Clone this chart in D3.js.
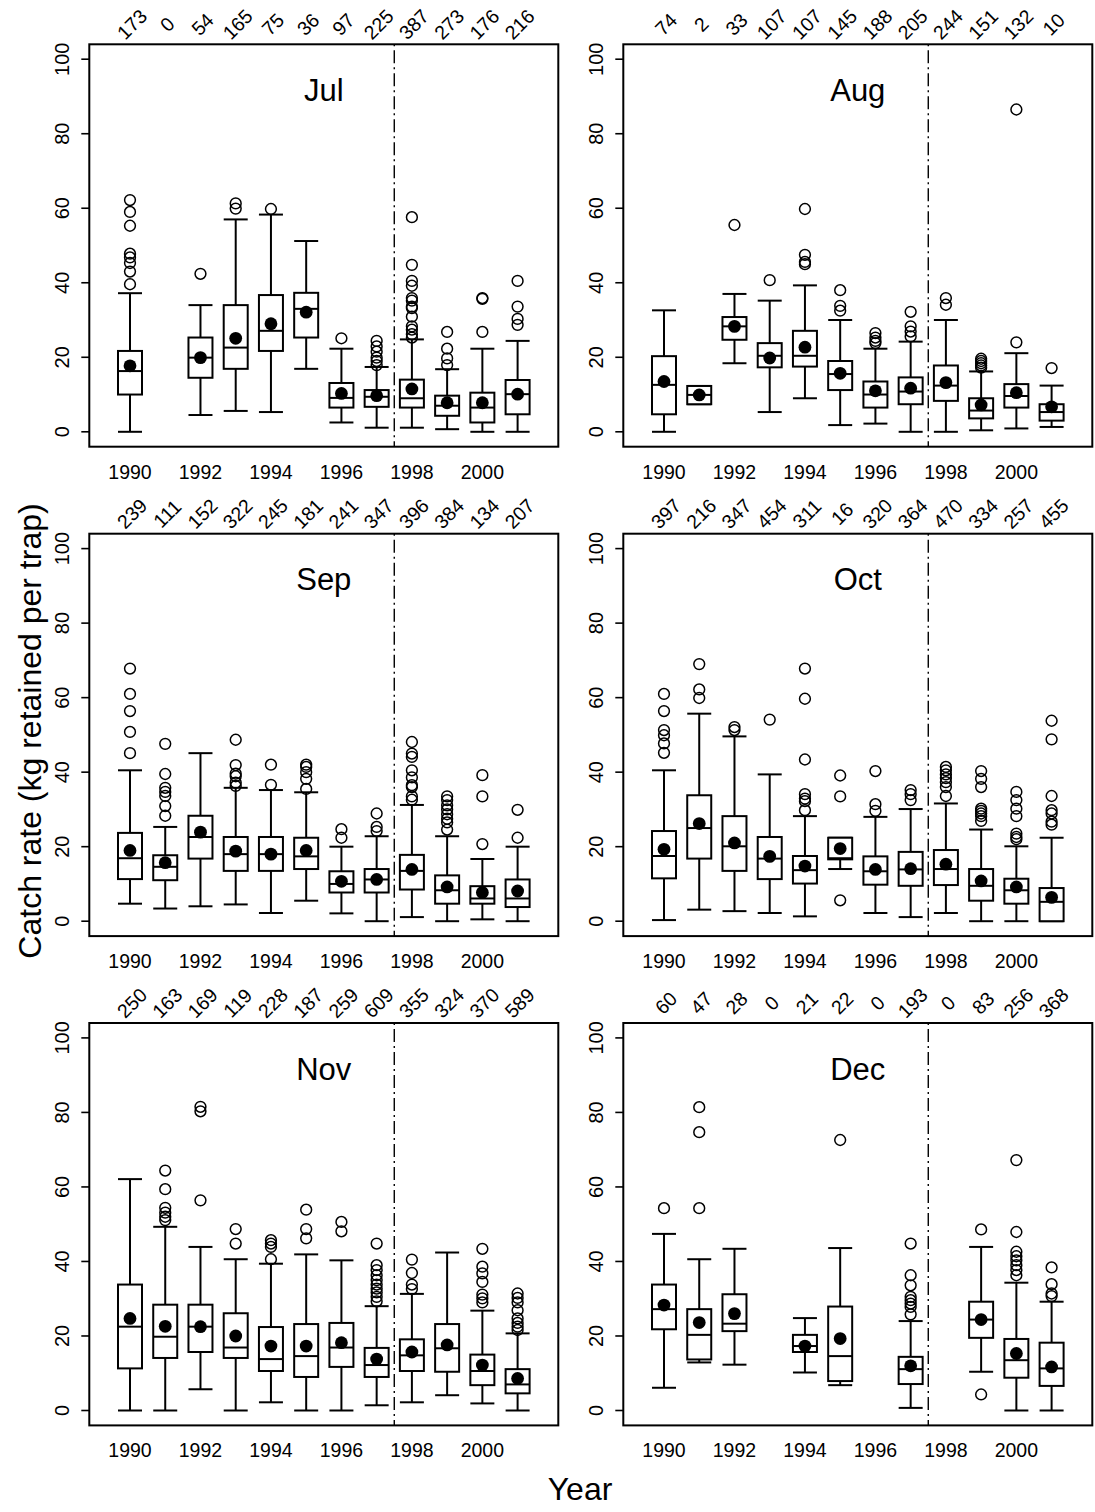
<!DOCTYPE html>
<html>
<head>
<meta charset="utf-8">
<script src="https://cdn.jsdelivr.net/npm/d3@7"></script>
<style>
  body { margin: 0; background: #fff; }
  svg text { font-family: "Liberation Sans", Arial, Helvetica, sans-serif; fill: #000; }
</style>
</head>
<body>
<svg id="chart" width="1095" height="1512"></svg>
<script>
// Survey years (one box per year) and the labelled subset on the x axis
const years = [1990, 1991, 1992, 1993, 1994, 1995, 1996, 1997, 1998, 1999, 2000, 2001];
const yearLabels = [1990, 1992, 1994, 1996, 1998, 2000];
const yTicks = [0, 20, 40, 60, 80, 100];
const breakYear = 1997.5;

// Per month: number of trap lifts, box stats [low whisker, Q1, median, Q3, high whisker],
// mean catch rate and outlying trap lifts (kg retained per trap)
const julN = [173, 0, 54, 165, 75, 36, 97, 225, 387, 273, 176, 216];
const julBox = [
  [0, 10.0, 16.3, 21.7, 37.2], null, [4.5, 14.5, 19.9, 25.3, 34.0], [5.6, 16.9, 22.6, 34.0, 57.0],
  [5.3, 21.7, 27.1, 36.7, 58.3], [16.9, 25.3, 33.0, 37.3, 51.2], [2.5, 6.5, 9.1, 13.1, 22.3], [1.1, 6.7, 9.4, 11.2, 17.4],
  [1.1, 6.5, 9.0, 14.0, 24.8], [0.7, 4.3, 7.0, 9.7, 16.8], [0, 2.5, 6.5, 10.5, 22.3], [0, 4.7, 10.1, 13.9, 24.4]];
const julMean = [17.7, null, 19.9, 25.1, 29.0, 32.1, 10.3, 9.7, 11.5, 7.8, 7.8, 10.1];
const julOut = [
  [62.2, 59.0, 55.3, 47.8, 46.8, 45.3, 43.0, 39.6], [], [42.4], [61.3, 59.9], [59.8], [], [25.1],
  [24.4, 22.9, 21.5, 19.9, 19.0, 17.9],
  [57.6, 44.8, 40.5, 39.2, 35.9, 35.2, 33.6, 33.2, 30.9, 28.3, 27.4, 26.2, 25.3],
  [26.8, 22.3, 19.7, 17.9], [35.9, 35.7, 26.8], [40.5, 33.6, 30.3, 28.7]];

const augN = [74, 2, 33, 107, 107, 145, 188, 205, 244, 151, 132, 10];
const augBox = [
  [0, 4.7, 12.6, 20.3, 32.6], [7.4, 7.4, 9.9, 12.3, 12.3], [18.4, 24.7, 28.3, 30.8, 37.0], [5.3, 17.3, 20.4, 23.8, 35.2],
  [9.0, 17.5, 20.4, 27.1, 39.3], [1.8, 11.2, 15.5, 19.0, 30.0], [2.2, 6.5, 10.0, 13.5, 22.3], [0, 7.4, 10.8, 14.6, 24.2],
  [0, 8.3, 12.4, 17.8, 30.0], [0.4, 3.6, 5.7, 9.0, 16.2], [0.9, 6.5, 9.6, 12.8, 21.1], [1.3, 3.0, 5.3, 7.4, 12.4]];
const augMean = [13.5, 9.9, 28.3, 19.8, 22.7, 15.7, 11.0, 11.7, 13.2, 7.2, 10.5, 6.7];
const augOut = [
  [], [], [55.5], [40.7], [59.8, 47.5, 45.6, 45.0], [38.0, 33.8, 32.5], [26.5, 25.3, 24.4, 23.8],
  [32.2, 28.3, 26.9, 25.6], [35.9, 34.1], [19.6, 19.0, 18.4, 17.8, 17.2], [86.5, 24.0], [17.1]];

const sepN = [239, 111, 152, 322, 245, 181, 241, 347, 396, 384, 134, 207];
const sepBox = [
  [4.7, 11.3, 16.9, 23.7, 40.5], [3.4, 11.0, 14.6, 17.7, 25.3], [4.0, 16.8, 22.6, 28.3, 45.1], [4.5, 13.5, 18.0, 22.6, 35.8],
  [2.2, 13.5, 18.0, 22.6, 35.2], [5.5, 14.0, 17.4, 22.4, 34.6], [2.1, 7.7, 10.0, 13.4, 20.0], [0, 7.7, 11.2, 14.0, 22.8],
  [1.1, 8.5, 13.5, 17.8, 31.2], [0, 4.7, 8.3, 12.3, 22.8], [0.5, 4.7, 6.1, 9.4, 16.7], [0, 3.8, 6.1, 11.2, 20.0]];
const sepMean = [19.0, 15.7, 23.9, 18.8, 18.0, 19.0, 10.7, 11.2, 13.9, 9.2, 7.7, 8.1];
const sepOut = [
  [67.8, 61.0, 56.4, 50.8, 45.1], [47.6, 39.5, 35.8, 34.7, 33.6, 30.9, 28.3], [], [48.7, 41.9, 39.6, 38.9, 37.2, 36.3],
  [42.0, 36.6], [42.0, 41.4, 40.0, 38.2, 35.5], [24.7, 22.4], [28.9, 25.3, 24.2],
  [48.1, 45.0, 44.1, 40.5, 38.6, 36.5, 36.0, 33.5, 32.6], [33.5, 32.5, 31.1, 30.0, 28.7, 27.5, 26.5, 24.6],
  [39.2, 33.5, 20.7], [29.9, 22.4]];

const octN = [397, 216, 347, 454, 311, 16, 320, 364, 470, 334, 257, 455];
const octBox = [
  [0.3, 11.5, 17.5, 24.2, 40.5], [3.1, 16.8, 25.0, 33.8, 55.7], [2.7, 13.5, 20.1, 28.2, 49.6], [2.2, 11.3, 16.8, 22.6, 39.4],
  [1.3, 10.1, 13.7, 17.5, 28.2], [14.0, 16.6, 16.9, 22.4, 22.4], [2.2, 9.8, 13.4, 17.4, 28.0], [1.1, 9.5, 13.9, 18.6, 30.1],
  [2.2, 9.7, 14.0, 19.1, 31.6], [0, 5.5, 9.5, 14.0, 24.6], [0, 4.7, 8.3, 11.4, 20.1], [0, 0, 5.2, 8.9, 22.4]];
const octMean = [19.3, 26.2, 21.0, 17.4, 14.8, 19.5, 13.9, 14.1, 15.3, 10.8, 9.2, 6.4];
const octOut = [
  [61.0, 56.4, 51.3, 49.9, 47.7, 45.2], [69.0, 62.2, 59.9], [52.1, 51.3], [54.1],
  [67.8, 59.7, 43.4, 34.1, 32.9, 32.2, 29.8], [39.1, 33.5, 5.6], [40.3, 31.4, 29.6], [35.2, 34.1, 32.5],
  [41.4, 40.5, 39.4, 38.4, 37.3, 36.0, 33.6], [40.3, 38.2, 36.0, 30.2, 29.6, 28.9, 28.2, 26.9],
  [34.7, 32.5, 30.2, 28.2, 23.5, 22.6, 22.0], [53.8, 48.8, 33.6, 29.8, 28.9, 26.7, 25.9]];

const novN = [250, 163, 169, 119, 228, 187, 259, 609, 355, 324, 370, 589];
const novBox = [
  [0, 11.3, 22.5, 33.8, 62.1], [0, 14.1, 19.8, 28.4, 49.3], [5.7, 15.7, 22.5, 28.4, 43.9], [0, 14.1, 16.9, 26.1, 40.6],
  [2.2, 10.6, 13.8, 22.4, 39.4], [0, 9.0, 14.6, 23.2, 41.9], [0, 11.7, 16.9, 23.5, 40.3], [1.4, 9.0, 12.2, 16.8, 28.0],
  [2.2, 10.6, 14.8, 19.1, 31.3], [4.1, 10.4, 16.7, 23.2, 42.4], [1.9, 6.8, 10.6, 15.0, 26.8], [0, 4.6, 7.0, 11.1, 20.7]];
const novMean = [24.7, 22.6, 22.5, 20.0, 17.3, 17.3, 18.2, 13.8, 15.7, 17.6, 12.2, 8.6];
const novOut = [
  [], [64.4, 59.4, 54.4, 53.1, 52.0, 51.1], [81.5, 80.3, 56.4], [48.7, 44.8], [45.7, 44.8, 43.9, 40.6],
  [53.9, 48.7, 46.2], [50.6, 48.1], [44.8, 39.0, 37.7, 36.3, 35.0, 33.8, 32.7, 31.7, 30.5, 29.3],
  [40.5, 36.9, 33.8, 32.6], [], [43.4, 38.6, 36.8, 34.5, 31.1, 30.1, 29.0],
  [31.4, 30.2, 29.0, 26.9, 24.7, 23.5, 22.5, 21.6]];

const decN = [60, 47, 28, 0, 21, 22, 0, 193, 0, 83, 256, 368];
const decBox = [
  [6.1, 21.8, 27.2, 33.8, 47.4], [12.9, 13.7, 20.3, 27.2, 40.6], [12.3, 21.3, 23.3, 31.2, 43.4], null,
  [10.2, 15.7, 17.3, 20.3, 24.8], [6.8, 7.9, 14.6, 27.9, 43.6], null, [0.7, 7.1, 11.1, 14.4, 24.0],
  null, [10.4, 19.5, 24.4, 29.2, 43.9], [0, 8.8, 13.5, 19.2, 34.3], [0, 6.6, 11.3, 18.2, 29.2]];
const decMean = [28.3, 23.6, 26.0, null, 17.3, 19.3, null, 12.0, null, 24.4, 15.3, 11.7];
const decOut = [
  [54.3], [81.4, 74.7, 54.3], [], [], [], [72.6], [], [44.8, 36.3, 33.6, 30.5, 29.6, 28.7, 27.8, 25.8],
  [], [48.6, 4.3], [67.2, 47.9, 42.6, 41.4, 40.3, 39.0, 37.7, 36.3], [38.4, 33.9, 31.4, 30.7]];

const panels = [
  { name: "Jul", n: julN, box: julBox, mean: julMean, out: julOut },
  { name: "Aug", n: augN, box: augBox, mean: augMean, out: augOut },
  { name: "Sep", n: sepN, box: sepBox, mean: sepMean, out: sepOut },
  { name: "Oct", n: octN, box: octBox, mean: octMean, out: octOut },
  { name: "Nov", n: novN, box: novBox, mean: novMean, out: novOut },
  { name: "Dec", n: decN, box: decBox, mean: decMean, out: decOut }
];

// Layout of the 3 x 2 grid of panels
const colX = [89.3, 623.3];
const rowY = [44.3, 533.7, 1023];
const pw = 469, ph = 402.4;
const boxHalf = 12;
const lw = 2;

const svg = d3.select("#chart");
svg.append("rect").attr("width", 1095).attr("height", 1512).attr("fill", "#fff");

const x = d3.scaleLinear().domain([1990 - 1.155, 2001 + 1.155]).range([0, pw]);
const y = d3.scaleLinear().domain([-4, 104]).range([ph, 0]);

panels.forEach((p, k) => {
  const g = svg.append("g")
    .attr("transform", `translate(${colX[k % 2]},${rowY[Math.floor(k / 2)]})`);

  // Period break between 1997 and 1998
  g.append("line")
    .attr("x1", x(breakYear)).attr("x2", x(breakYear))
    .attr("y1", 0).attr("y2", ph)
    .attr("stroke", "#000").attr("stroke-width", 1.4)
    .attr("stroke-dasharray", "2,4,13,4");

  // Y axis (ticks outside the frame, rotated labels)
  const yAxis = g.append("g");
  yAxis.selectAll("line.tick").data(yTicks).join("line")
    .attr("x1", -8).attr("x2", 0)
    .attr("y1", d => y(d)).attr("y2", d => y(d))
    .attr("stroke", "#000").attr("stroke-width", 1.6);
  yAxis.selectAll("text").data(yTicks).join("text")
    .attr("transform", d => `translate(${-20},${y(d)}) rotate(-90)`)
    .attr("text-anchor", "middle")
    .attr("font-size", 20)
    .text(d => d);

  // X axis labels (no tick marks)
  g.append("g").selectAll("text").data(yearLabels).join("text")
    .attr("x", d => x(d)).attr("y", ph + 32)
    .attr("text-anchor", "middle")
    .attr("font-size", 19.5)
    .text(d => d);

  // Sample sizes above each year
  g.append("g").selectAll("text").data(years).join("text")
    .attr("transform", d => `translate(${x(d) + 2},${-20}) rotate(-45)`)
    .attr("text-anchor", "middle")
    .attr("dy", "0.35em")
    .attr("font-size", 19.5)
    .text((d, i) => p.n[i]);

  // Boxes
  const yb = years.map((yr, i) => ({ yr, s: p.box[i], mean: p.mean[i], out: p.out[i] }));
  const bg = g.append("g").selectAll("g").data(yb.filter(d => d.s)).join("g");
  const line = (sel, x1, x2, y1, y2) => sel.append("line")
    .attr("x1", x1).attr("x2", x2).attr("y1", y1).attr("y2", y2)
    .attr("stroke", "#000").attr("stroke-width", lw);
  bg.each(function (d) {
    const s = d3.select(this);
    const cx = x(d.yr);
    const [lo, q1, md, q3, hi] = d.s;
    // whiskers
    line(s, cx, cx, y(q3), y(hi));
    line(s, cx, cx, y(q1), y(lo));
    // staples
    line(s, cx - boxHalf, cx + boxHalf, y(hi), y(hi));
    line(s, cx - boxHalf, cx + boxHalf, y(lo), y(lo));
    // box
    s.append("rect")
      .attr("x", cx - boxHalf).attr("width", boxHalf * 2)
      .attr("y", y(q3)).attr("height", y(q1) - y(q3))
      .attr("fill", "#fff").attr("stroke", "#000").attr("stroke-width", lw);
    // median
    line(s, cx - boxHalf, cx + boxHalf, y(md), y(md));
  });

  // Outliers
  const outs = yb.flatMap(d => (d.out || []).map(v => ({ yr: d.yr, v })));
  g.append("g").selectAll("circle").data(outs).join("circle")
    .attr("cx", d => x(d.yr)).attr("cy", d => y(d.v)).attr("r", 5.4)
    .attr("fill", "none").attr("stroke", "#000").attr("stroke-width", 1.5);

  // Means
  g.append("g").selectAll("circle").data(yb.filter(d => d.mean != null)).join("circle")
    .attr("cx", d => x(d.yr)).attr("cy", d => y(d.mean)).attr("r", 6.4)
    .attr("fill", "#000");

  // Frame
  g.append("rect").attr("width", pw).attr("height", ph)
    .attr("fill", "none").attr("stroke", "#000").attr("stroke-width", lw);

  // Month title
  g.append("text")
    .attr("x", pw / 2).attr("y", 56.5)
    .attr("text-anchor", "middle")
    .attr("font-size", 31)
    .text(p.name);
});

// Shared axis titles
svg.append("text")
  .attr("transform", "translate(41,731) rotate(-90)")
  .attr("text-anchor", "middle")
  .attr("font-size", 32)
  .text("Catch rate (kg retained per trap)");

svg.append("text")
  .attr("x", 580).attr("y", 1500)
  .attr("text-anchor", "middle")
  .attr("font-size", 32)
  .text("Year");
</script>
</body>
</html>
